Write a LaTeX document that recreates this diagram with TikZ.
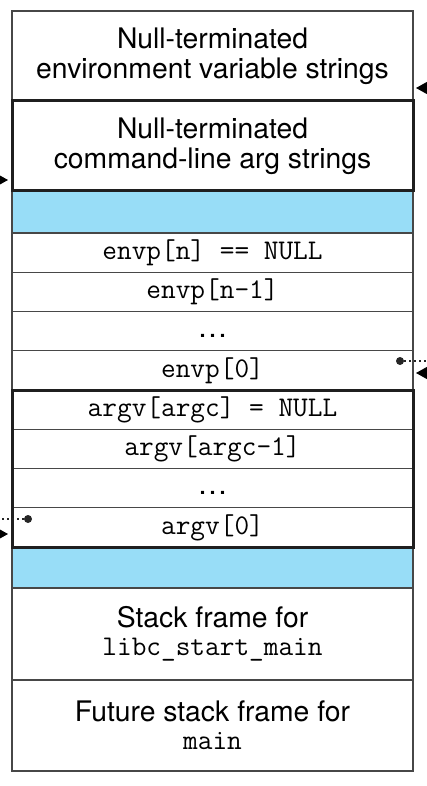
\documentclass[tikz,border=0pt]{standalone}
\usepackage{fontspec}
\setsansfont{TeX Gyre Heros}
\usepackage{tikz}
\usetikzlibrary{arrows.meta}
\definecolor{stackblue}{RGB}{152,221,247}
\newcommand{\cellcode}{\ttfamily\fontsize{28.5}{30}\selectfont}
\newcommand{\celldots}{{\sffamily\fontsize{30}{30}\selectfont\ldots}}

\begin{document}
\begin{tikzpicture}[x=1pt, y=-1pt,
				cell/.style={draw=black!72, line width=1.2pt, minimum width=401pt, inner sep=0pt, outer sep=0pt, align=center},
				big/.style={cell, font=\sffamily\fontsize{28.3}{30}\selectfont},
				row/.style={cell, minimum height=39.25pt, font=\cellcode},
				gap/.style={cell, fill=stackblue},
				frame/.style={draw=black!88, line width=3pt},
				ptr/.style={draw=black!85, line width=2.5pt, dash pattern=on 2.2pt off 2.8pt},
				dot/.style={circle, fill=black!85, inner sep=0pt, minimum size=8pt},
				>={Triangle[length=11pt, width=12pt]}]   %Pfeilspitzen
				\useasboundingbox (0,0) rectangle (427,786);
				% Zellen oben
				\node[big, minimum height=90pt] (env) at (212.5,56) {Null-terminated\\environment variable strings};
				\node[big, minimum height=90pt] (cmd) at (212.5,146) {Null-terminated\\command-line arg strings};
				\node[gap, minimum height=42pt] (gaptop) at (212.5,212) {};
				% envp und argv
				\foreach \name/\txt [count=\i from 0] in {envn/{envp[n] == NULL}, envnm/{envp[n-1]}, envdots/{\vphantom{envp[0]}\celldots}, envnull/{envp[0]},
						argvn/{argv[argc] = NULL}, argvnm/{argv[argc-1]}, argvdots/{\vphantom{argv[0]}\celldots}, argvnull/{argv[0]}}
					\node[row] (\name) at (212.5, 252.625+39.25*\i) {\txt};
				% Zellen unten
				\node[gap, minimum height=41pt] (gapbot) at (212.5,567.5) {};
				\node[big, minimum height=92pt] (libc) at (212.5,634) {Stack frame for\\[-2pt]{\cellcode libc\_start\_main}};
				\node[big, minimum height=91pt] (main) at (212.5,725.5) {Future stack frame for\\[-2pt]{\cellcode main}};
				% dicke Rahmen
				\draw[frame] (cmd.north west) rectangle (cmd.south east);
				\draw[frame] (argvn.north west) rectangle (argvnull.south east);
				% Pfeile von aussen
				\coordinate (envin) at (440,88);
				\coordinate (environin) at (440,373);
				\coordinate (cmdin) at (-13,180);
				\coordinate (argvin) at (-13,534);
				\draw[->, line width=1pt] (envin) -- ([xshift=3pt]env.east |- envin);
				\draw[->, line width=1pt] (environin) -- ([xshift=3pt]envnull.east |- environin);
				\draw[->, line width=1pt] (cmdin) -- ([xshift=-4pt]cmd.west |- cmdin);
				\draw[->, line width=1pt] (argvin) -- ([xshift=-4pt]argvnull.west |- argvin);
				% Zeiger (gepunktet)
				\node[dot] (envdot) at (400,361) {};
				\node[dot] (argvdot) at (28,519) {};
				\coordinate (envout) at (430,361);
				\coordinate (argvout) at (-3,519);
				\draw[ptr] (envdot) -- (envout);
				\draw[ptr] (argvout) -- (argvdot);
			\end{tikzpicture}
\end{document}
